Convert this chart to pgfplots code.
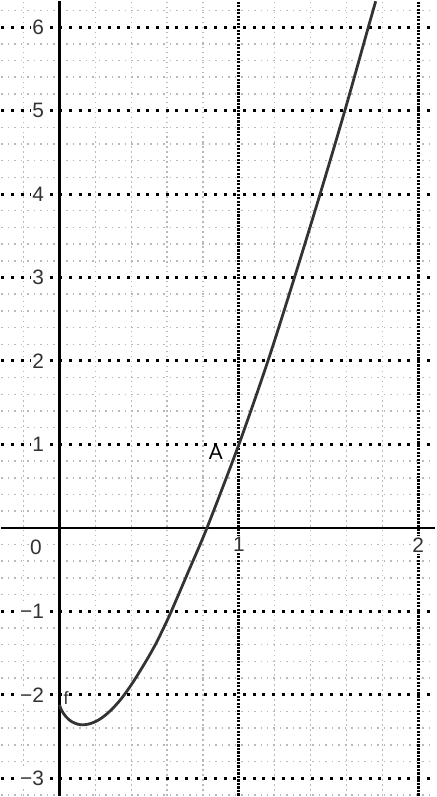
\documentclass[border=0pt]{standalone}
\usepackage{fontspec}
\setmainfont{Liberation Sans}
\usepackage{pgfplots}
\pgfplotsset{compat=1.18}
\begin{document}
\begin{tikzpicture}
\begin{axis}[
  scale only axis, width=435bp, height=797bp,
  xmin=-0.324, xmax=2.093, ymin=-3.207, ymax=6.307,
  axis lines=middle,
  axis line style={-, line width=2.6bp, black},
  xtick={1,2}, xticklabels={1,2},
  ytick={-3,-2,-1,1,2,3,4,5,6}, yticklabels={−3,−2,−1,1,2,3,4,5,6},
  minor xtick={-0.2,0.2,0.4,0.6,0.8,1.2,1.4,1.6,1.8},
  minor ytick={-3.2,-2.8,-2.6,-2.4,-2.2,-1.8,-1.6,-1.4,-1.2,-0.8,-0.6,-0.4,-0.2,
               0.2,0.4,0.6,0.8,1.2,1.4,1.6,1.8,2.2,2.4,2.6,2.8,3.2,3.4,3.6,3.8,
               4.2,4.4,4.6,4.8,5.2,5.4,5.6,5.8,6.2},
  major tick length=0pt, minor tick length=0pt,
  grid=both,
  major x grid style={black, line width=3bp, dash pattern=on 2.2bp off 1.3bp},
  major y grid style={black, line width=3bp, dash pattern=on 3bp off 6.7bp},
  minor x grid style={gray!55, line width=1.5bp, dash pattern=on 1.5bp off 3.5bp},
  minor y grid style={gray!55, line width=1.5bp, dash pattern=on 1.5bp off 5bp},
  ticklabel style={font=\fontsize{21}{21}\selectfont, text=black!80, fill=white, inner sep=1.5bp},
  xticklabel style={anchor=north, yshift=-8bp},
  yticklabel style={anchor=east, xshift=-14bp},
]
\addplot[smooth, color=black!80, line width=2.8bp] coordinates {
(0,-2.12) (0.004,-2.15) (0.01,-2.18) (0.02,-2.218) (0.037,-2.266) (0.055,-2.303)
(0.07,-2.325) (0.1,-2.352) (0.13,-2.36) (0.16,-2.352) (0.19,-2.331) (0.222,-2.296)
(0.26,-2.236) (0.297,-2.162) (0.33,-2.084) (0.361,-2.0) (0.4,-1.88) (0.43,-1.78)
(0.484,-1.59) (0.534,-1.4) (0.58,-1.2) (0.623,-1.0) (0.723,-0.5) (0.822,0)
(1.0,1) (1.162,2) (1.31,3) (1.453,4) (1.591,5) (1.722,6) (1.763,6.31)
};
\node[font=\fontsize{21}{21}\selectfont, text=black!80, fill=white, inner sep=1.5bp, anchor=east] at (axis cs:-0.09,-0.23) {0};
\node[font=\fontsize{21}{21}\selectfont, text=black] at (axis cs:0.872,0.905) {A};
\node[font=\fontsize{18}{18}\selectfont, text=black!80] at (axis cs:0.036,-2.04) {f};
\end{axis}
\end{tikzpicture}
\end{document}
